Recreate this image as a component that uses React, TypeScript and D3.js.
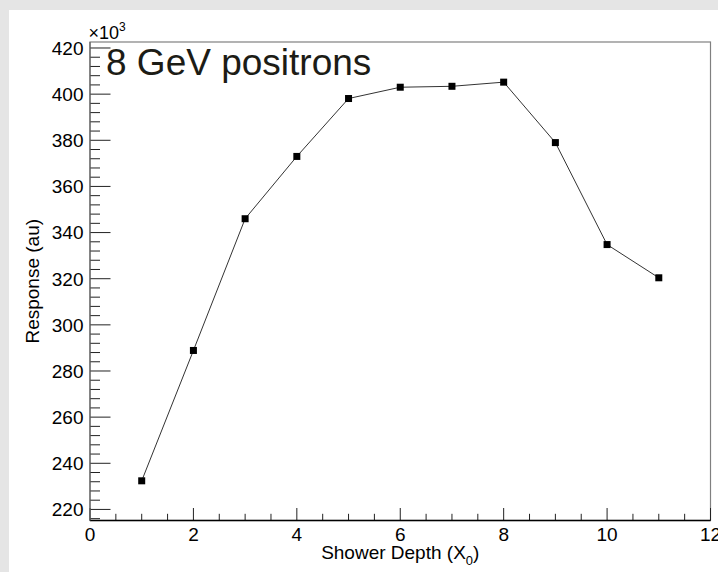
import React, { useEffect, useRef } from 'react';
import * as d3 from 'd3';

// shower depth in radiation lengths
const depths = [1, 2, 3, 4, 5, 6, 7, 8, 9, 10, 11];
// response in units of 10^3
const responses = [232.4, 288.9, 346, 373, 398.1, 403, 403.4, 405.2, 379, 334.8, 320.4];
const xTicks = [0, 2, 4, 6, 8, 10, 12];
const yTicks = [220, 240, 260, 280, 300, 320, 340, 360, 380, 400, 420];

const App: React.FC = () => {
  const svgRef = useRef<SVGSVGElement>(null);

  useEffect(() => {
    if (!svgRef.current) return;
    const svg = d3.select(svgRef.current);
    svg.selectAll('*').remove();

    const width = 718;
    const height = 572;
    const left = 90, right = 710.5, top = 42, bottom = 520.5;
    const font = "'Liberation Sans', Arial, sans-serif";
    const fs = '19px';

    svg.attr('width', width).attr('height', height);

    // canvas background + white pad
    svg.append('rect').attr('width', width).attr('height', height).attr('fill', '#e5e5e5');
    svg.append('rect').attr('x', 9).attr('y', 10).attr('width', width - 9).attr('height', height - 10).attr('fill', '#fff');

    const x = d3.scaleLinear().domain([0, 12]).range([left, right]);
    const y = d3.scaleLinear().domain([215.2, 422.6]).range([bottom, top]);

    // frame
    svg.append('rect')
      .attr('x', left).attr('y', top)
      .attr('width', right - left).attr('height', bottom - top)
      .attr('fill', 'none').attr('stroke', '#808080').attr('stroke-width', 1.2);

    // y ticks (minor every 4)
    const yMinor = d3.range(216, 423, 4);
    svg.selectAll('.ymin').data(yMinor).enter().append('line')
      .attr('x1', left).attr('x2', d => (d % 20 === 0 ? left + 20.5 : left + 10))
      .attr('y1', d => y(d)).attr('y2', d => y(d))
      .attr('stroke', '#222').attr('stroke-width', 1);

    svg.selectAll('.ylab').data(yTicks).enter().append('text')
      .attr('x', 83.5).attr('y', d => y(d)).attr('dy', '0.36em')
      .attr('text-anchor', 'end')
      .style('font-family', font).style('font-size', fs).attr('fill', '#000')
      .text(d => d);

    // x ticks (minor every 0.5)
    const xMinor = d3.range(0, 12.01, 0.5);
    svg.selectAll('.xmin').data(xMinor).enter().append('line')
      .attr('x1', d => x(d)).attr('x2', d => x(d))
      .attr('y1', bottom).attr('y2', d => (d % 2 === 0 ? bottom - 12.5 : bottom - 6.7))
      .attr('stroke', '#222').attr('stroke-width', 1);

    svg.selectAll('.xlab').data(xTicks).enter().append('text')
      .attr('x', d => x(d)).attr('y', 541)
      .attr('text-anchor', 'middle')
      .style('font-family', font).style('font-size', fs).attr('fill', '#000')
      .text(d => d);

    // axis lines
    svg.append('line').attr('x1', left).attr('x2', right).attr('y1', bottom).attr('y2', bottom)
      .attr('stroke', '#000').attr('stroke-width', 1.5);
    svg.append('line').attr('x1', left).attr('x2', left).attr('y1', top).attr('y2', bottom)
      .attr('stroke', '#666').attr('stroke-width', 1.2);

    // exponent label
    const expo = svg.append('text').attr('x', 88.5).attr('y', 38.5)
      .style('font-family', font).style('font-size', '18px').attr('fill', '#000');
    expo.append('tspan').text('\u00d710');
    expo.append('tspan').attr('dy', -8).style('font-size', '12px').text('3');

    // axis titles
    svg.append('text')
      .attr('transform', `translate(39,${(top + bottom) / 2}) rotate(-90)`)
      .attr('text-anchor', 'middle')
      .style('font-family', font).style('font-size', fs).attr('fill', '#000')
      .text('Response (au)');

    const xt = svg.append('text').attr('x', (left + right) / 2).attr('y', 559)
      .attr('text-anchor', 'middle')
      .style('font-family', font).style('font-size', fs).attr('fill', '#000');
    xt.append('tspan').text('Shower Depth (X');
    xt.append('tspan').attr('dy', 6).style('font-size', '13px').text('0');
    xt.append('tspan').attr('dy', -6).text(')');

    // data line
    const pts = depths.map((d, i) => [d, responses[i]] as [number, number]);
    const line = d3.line<[number, number]>().x(d => x(d[0])).y(d => y(d[1]));
    svg.append('path').datum(pts).attr('d', line)
      .attr('fill', 'none').attr('stroke', '#333').attr('stroke-width', 1);

    svg.selectAll('.pt').data(pts).enter().append('rect')
      .attr('x', d => x(d[0]) - 3.5).attr('y', d => y(d[1]) - 3.5)
      .attr('width', 7).attr('height', 7).attr('fill', '#000');

    // label
    svg.append('text').attr('x', 106).attr('y', 75)
      .style('font-family', font).style('font-size', '37px').attr('fill', '#1c1c16')
      .text('8 GeV positrons');
  }, []);

  return <svg ref={svgRef} style={{ position: 'absolute', left: 0, top: 0 }} />;
};

export default App;
